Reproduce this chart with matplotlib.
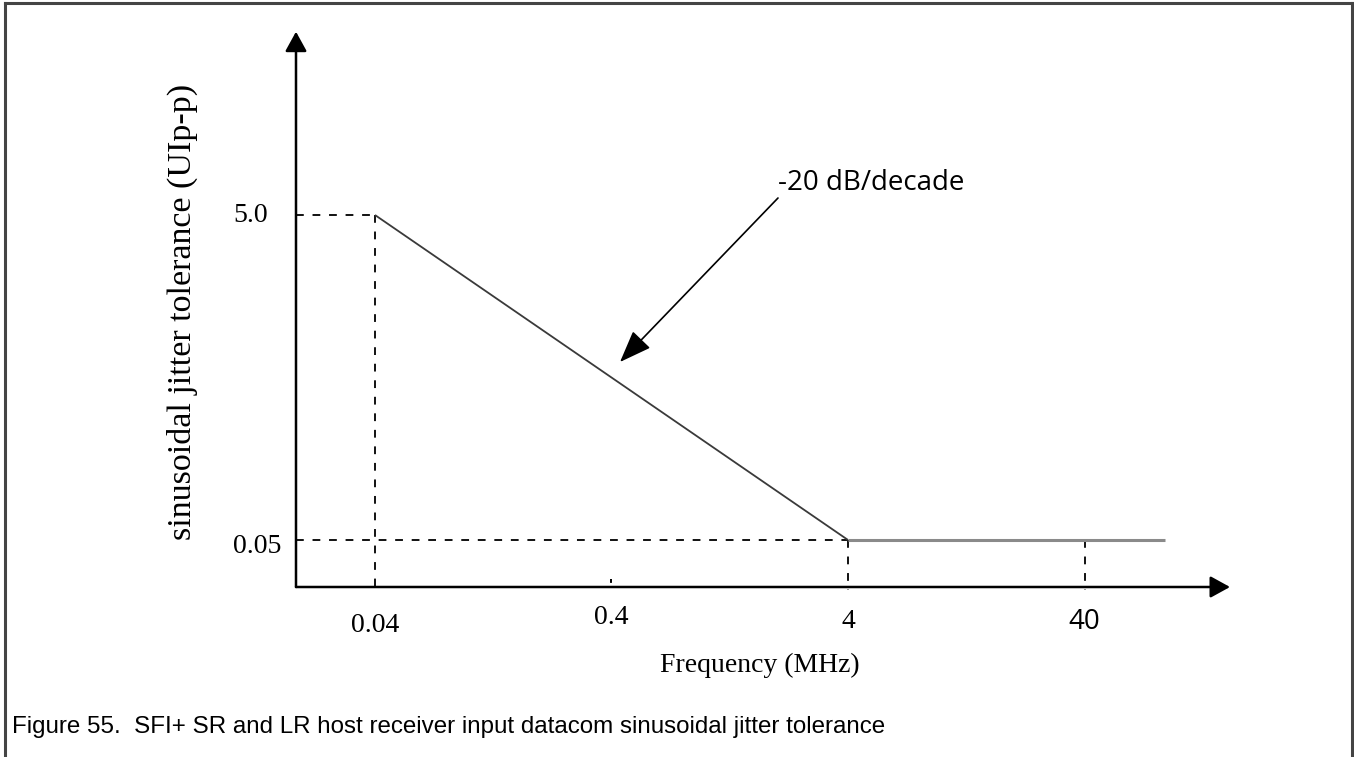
import numpy as np
import matplotlib.pyplot as plt
from matplotlib.lines import Line2D

# jitter tolerance mask: corner points (MHz, UIp-p)
slope_freq = [0.04, 4]
slope_jitter = [5.0, 0.05]
flat_freq = [4, 88]
flat_jitter = [0.05, 0.05]

x_ticks = [0.04, 0.4, 4, 40]
x_tick_labels = ["0.04", "0.4", "4", "40"]
y_ticks = [5.0, 0.05]
y_tick_labels = ["5.0", "0.05"]

serif = "Liberation Serif"
sans = "Open Sans"

fig = plt.figure(figsize=(13.54, 7.57), dpi=100)

# outer frame of the figure box
frame_kw = dict(transform=fig.transFigure, color="#444444", lw=2.2)
fig.add_artist(Line2D([0.0037, 0.0037], [0, 0.996], **frame_kw))
fig.add_artist(Line2D([0.0037, 0.9985], [0.996, 0.996], **frame_kw))
fig.add_artist(Line2D([0.9985, 0.9985], [0, 0.996], **frame_kw))

ax = fig.add_axes([296 / 1354, 1 - 587 / 757, (1230 - 296) / 1354, (587 - 35) / 757])
ax.set_xscale("log")
ax.set_yscale("log")
ax.set_xlim(0.01854, 164.9)
ax.set_ylim(0.02568, 64.1)
for s in ax.spines.values():
    s.set_visible(False)
ax.set_xticks([])
ax.set_yticks([])
ax.minorticks_off()

# axes with arrow heads
arrow_kw = dict(arrowstyle="-|>,head_length=0.6,head_width=0.33", color="black", lw=1.8,
                mutation_scale=20, shrinkA=0, shrinkB=0)
ax.annotate("", xy=(0, 1.006), xytext=(0, 0), xycoords="axes fraction", arrowprops=arrow_kw)
ax.annotate("", xy=(1, 0), xytext=(0, 0), xycoords="axes fraction", arrowprops=arrow_kw)

ybot = ax.get_ylim()[0]
xleft = ax.get_xlim()[0]
dash = (0, (4, 4.5))
dkw = dict(color="#111111", lw=1.4, linestyle=dash, clip_on=False)

# dashed guide lines
ax.plot([xleft, slope_freq[0]], [slope_jitter[0]] * 2, **dkw)
ax.plot([xleft, slope_freq[1]], [slope_jitter[1]] * 2, **dkw)
ax.plot([slope_freq[0]] * 2, [slope_jitter[0], ybot * 0.96], **dkw)
ax.plot([x_ticks[2]] * 2, [slope_jitter[1], ybot * 0.96], **dkw)
ax.plot([x_ticks[3]] * 2, [flat_jitter[0], ybot * 0.96], **dkw)
ax.plot([x_ticks[1]] * 2, [ybot * 1.12, ybot * 0.93], color="black", lw=1.4,
        linestyle=(0, (2, 5)), clip_on=False)

# mask curve
ax.plot(slope_freq, slope_jitter, color="#3a3a3a", lw=1.3, solid_capstyle="butt")
ax.plot(flat_freq, flat_jitter, color="#8a8a8a", lw=2.2, solid_capstyle="butt")

# tick labels
label_off = [-38, -30, -34, -35]
for xv, lab, off in zip(x_ticks, x_tick_labels, label_off):
    fam = sans if lab == "40" else serif
    ax.annotate(lab, xy=(xv, ybot), xycoords="data", xytext=(0, off), textcoords="offset pixels",
                ha="center", va="center", fontsize=20, family=fam, annotation_clip=False)
y_off = [0, -7]
for yv, lab, off in zip(y_ticks, y_tick_labels, y_off):
    ax.annotate(lab, xy=(xleft, yv), xycoords="data", xytext=(-63, off), textcoords="offset pixels",
                ha="left", va="center", fontsize=20, family=serif, annotation_clip=False)

fig.text(760 / 1354, 1 - 665 / 757, "Frequency (MHz)", ha="center", va="center",
         fontsize=20, family=serif)
fig.text(182 / 1354, 1 - 312 / 757, "sinusoidal jitter tolerance (UIp-p)", ha="center",
         va="center", rotation=90, fontsize=24.5, family=serif)

# slope annotation
fig.text(778 / 1354, 1 - 183 / 757, "-20 dB/decade", ha="left", va="center",
         fontsize=20, family=sans)
ax.annotate("", xy=(620 / 1354, 1 - 362 / 757), xycoords="figure fraction",
            xytext=(778 / 1354, 1 - 198 / 757), textcoords="figure fraction",
            arrowprops=dict(arrowstyle="-|>,head_length=1.0,head_width=0.38", color="black",
                            lw=1.2, mutation_scale=20, shrinkA=0, shrinkB=0))

# caption
fig.text(12 / 1354, 1 - 727 / 757, "Figure 55.  SFI+ SR and LR host receiver input datacom sinusoidal jitter tolerance",
         ha="left", va="center", fontsize=17.4, family="Liberation Sans")

fig.savefig("out.png", dpi=100)
